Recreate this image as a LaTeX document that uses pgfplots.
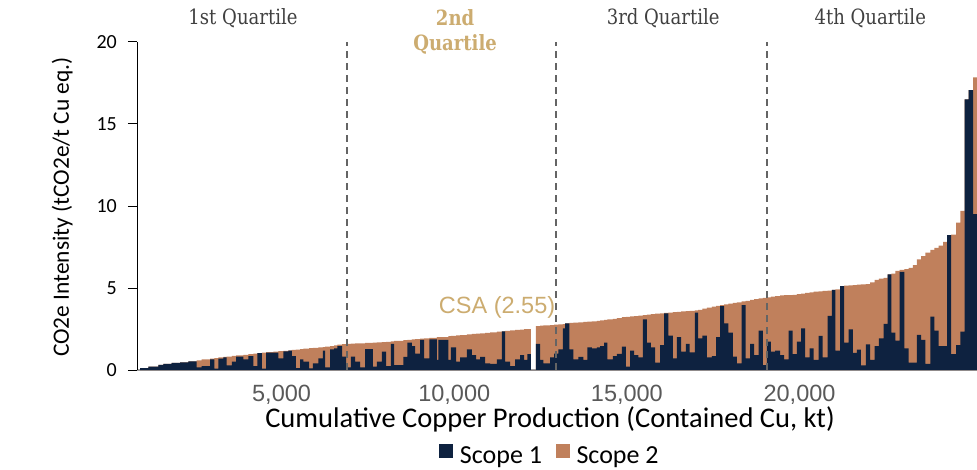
\documentclass[border=0pt]{standalone}
\usepackage{fontspec}
\setmainfont{Carlito}
\newfontfamily\arialf{Liberation Sans}
\newfontfamily\qfont[FakeStretch=0.86]{DejaVu Serif}
\usepackage{pgfplots}
\pgfplotsset{compat=1.18}
\usepackage{pgfplotstable}
\definecolor{navy}{RGB}{14,34,64}
\definecolor{copper}{RGB}{192,128,92}
\definecolor{gold}{RGB}{204,172,112}
\definecolor{qgray}{RGB}{64,64,64}
\definecolor{tickgray}{RGB}{89,89,89}
\definecolor{dashgray}{RGB}{100,100,100}
\pgfplotstableread{
x s1 s2
900 0.12 0
1140 0.20 0
1430 0.32 0
1575 0.37 0
1818 0.44 0
2059 0.47 0
2299 0.52 0
2543 0.16 0.42
2687 0.24 0.41
2928 0.65 0.05
3053 0.08 0.65
3168 0.69 0.08
3313 0.77 0.03
3412 0.28 0.54
3557 0.51 0.35
3681 0.81 0.08
3893 0.65 0.28
4037 0.85 0.12
4182 0.24 0.76
4298 1.03 0
4426 0.08 0.98
4550 1.06 0.03
4762 1.06 0.06
4907 0.71 0.44
5051 1.14 0.03
5196 1.18 0.01
5295 0.85 0.37
5411 0.12 1.12
5535 0.65 0.62
5631 0.51 0.79
5796 0.10 1.23
5903 0.41 0.94
6065 0.71 0.67
6193 1.18 0.22
6260 0.16 1.26
6404 1.26 0.20
6520 1.32 0.18
6616 1.46 0.08
6752 0.81 0.77
6868 0.16 1.44
7004 0.81 0.80
7129 0.51 1.11
7273 0.16 1.47
7418 1.28 0.37
7641 0.20 1.47
7757 0.51 1.18
7902 1.12 0.58
8027 0.24 1.48
8163 1.59 0.16
8258 0.30 1.47
8528 0.80 1.02
8644 1.67 0.17
8771 1.46 0.41
8867 1.00 0.88
9012 1.83 0.08
9128 0.71 1.22
9281 1.87 0.09
9495 0.61 1.39
9542 1.83 0.18
9832 0.61 1.46
9901 1.38 0.70
10055 0.51 1.60
10170 0.77 1.36
10364 1.26 0.91
10509 0.91 1.29
10634 0.65 1.57
10750 0.80 1.44
10895 0.40 1.87
11040 0.37 1.93
11234 0.65 1.69
11379 2.36 0.00
11474 0.51 1.87
11619 0.24 2.17
11764 0.65 1.79
11909 0.91 1.55
12025 0.61 1.88
12120 0.97 1.53
12219 0 0
12364 1.59 1.09
12488 0.61 2.09
12584 0.40 2.32
12778 0.77 1.97
12894 1.00 1.76
13018 1.26 1.52
13146 2.54 0.26
13212 2.85 0.00
13337 1.26 1.61
13453 0.65 2.24
13598 0.80 2.11
13743 0.61 2.32
13859 1.38 1.57
13986 1.32 1.65
14131 1.38 1.61
14226 1.46 1.56
14342 1.67 1.39
14438 0.65 2.43
14594 0.85 2.27
14710 0.98 2.18
14855 1.42 1.80
14971 0.20 3.04
15095 1.18 2.09
15211 0.91 2.38
15336 0.77 2.55
15463 3.09 0.25
15579 1.67 1.70
15695 1.38 2.02
15820 0.45 2.98
15964 1.52 1.94
16080 3.46 0.02
16205 2.10 1.40
16332 0.71 2.82
16448 2.00 1.55
16573 1.12 2.45
16709 1.59 2.00
16814 1.08 2.53
16970 3.50 0.14
17065 1.93 1.73
17190 2.10 1.65
17317 0.77 3.03
17462 0.85 3.01
17587 2.00 1.91
17703 3.90 0.06
17819 2.85 1.15
17943 2.28 1.76
18071 0.81 3.28
18187 0.40 3.73
18320 3.96 0.22
18436 0.71 3.51
18572 1.59 2.68
18688 0.91 3.41
18812 2.40 1.96
18940 0.30 4.10
19056 1.73 2.70
19171 1.12 3.35
19296 1.18 3.33
19441 0.91 3.64
19557 0.65 3.91
19681 2.40 2.17
19797 0.97 3.61
19925 1.73 2.89
20049 2.54 2.12
20165 0.77 3.93
20290 1.32 3.42
20405 0.61 4.17
20550 2.08 2.72
20666 0.77 4.05
20811 3.30 1.54
20939 4.88 0.00
21035 1.18 3.74
21179 5.12 0.00
21295 1.67 3.47
21420 2.48 2.68
21547 1.04 4.14
21663 1.24 3.96
21779 0.28 4.94
21924 1.57 3.67
22048 0.61 4.74
22173 1.46 4.04
22300 1.93 3.64
22434 2.81 2.81
22550 5.83 0.00
22657 2.28 3.60
22773 1.79 4.26
22898 5.99 0.11
23034 1.32 4.83
23159 0.45 5.77
23286 0.45 5.95
23402 2.14 4.61
23518 1.83 5.12
23642 0.37 6.78
23787 3.25 4.07
23903 2.40 5.05
24027 1.46 6.12
24155 1.46 6.36
24271 8.23 0.00
24387 0.97 7.28
24532 1.52 7.46
24655 2.34 7.36
24780 16.50 0.00
24896 17.07 0.00
25024 9.50 8.35
25140 9.50 8.35
}\curve
\begin{document}
\begin{tikzpicture}
\useasboundingbox (0,0) rectangle (977pt,469pt);
\begin{axis}[
  at={(137pt,99pt)}, anchor=south west,
  scale only axis, width=840pt, height=328pt,
  xmin=813, xmax=25140, ymin=0, ymax=20,
  axis x line*=bottom, axis y line*=left,
  x axis line style={draw=gray!75, line width=1.6pt, -},
  y axis line style={draw=black, line width=1pt, -},
  xtick={5000,10000,15000,20000},
  ytick={0,5,10,15,20},
  scaled x ticks=false,
  /pgf/number format/1000 sep={,},
  /pgf/number format/assume math mode=true,
  x tick style={draw=none},
  y tick style={black, line width=1pt},
  major tick length=9pt,
  tick align=outside,
  xticklabel style={font=\arialf\fontsize{23.5}{26}\selectfont, text=tickgray, inner sep=0pt, yshift=-6pt},
  yticklabel style={font=\fontsize{20}{22}\selectfont, inner sep=0pt, xshift=-11pt},
  xlabel={Cumulative Copper Production (Contained Cu, kt)},
  ylabel={CO2e Intensity (tCO2e/t Cu eq.)},
  xlabel style={font=\fontsize{28.5}{30}\selectfont, at={(axis description cs:0.4917,-0.152)}, anchor=center},
  ylabel style={font=\fontsize{23.4}{25}\selectfont, at={(axis description cs:-0.089,0.497)}, anchor=center},
  legend style={at={(axis description cs:0.4917,-0.261)}, anchor=center, draw=none, fill=none,
    font=\fontsize{26}{28}\selectfont, legend columns=2, inner sep=0pt,
    /tikz/every odd column/.append style={column sep=5pt},
    /tikz/every even column/.append style={column sep=12pt}},
  legend image code/.code={\fill[#1] (0pt,-2pt) rectangle (13.5pt,11.5pt);},
  clip=false,
]
\addplot[fill=copper, draw=none, const plot mark left, forget plot]
  table[x=x, y expr=\thisrow{s1}+\thisrow{s2}] {\curve} \closedcycle;
\addplot[fill=navy, draw=none, const plot mark left, forget plot]
  table[x=x, y=s1] {\curve} \closedcycle;
\addplot[dashgray, line width=1.8pt, dash pattern=on 7pt off 5pt, forget plot] coordinates {(6897,0) (6897,20)};
\addplot[dashgray, line width=1.8pt, dash pattern=on 7pt off 5pt, forget plot] coordinates {(12952,0) (12952,20)};
\addplot[dashgray, line width=1.8pt, dash pattern=on 7pt off 5pt, forget plot] coordinates {(19064,0) (19064,20)};
\addlegendimage{fill=navy, draw=none}
\addlegendentry{Scope 1}
\addlegendimage{fill=copper, draw=none}
\addlegendentry{Scope 2}
\node[font=\arialf\fontsize{23.5}{26}\selectfont, text=gold] at (axis cs:11242,3.84) {CSA (2.55)};
\node[font=\qfont\fontsize{21}{23}\selectfont, text=qgray] at (axis cs:3884,21.46) {1st Quartile};
\node[font=\qfont\bfseries\fontsize{21}{23}\selectfont, text=gold] at (axis cs:10026,21.46) {2nd};
\node[font=\qfont\bfseries\fontsize{21}{23}\selectfont, text=gold] at (axis cs:10026,19.88) {Quartile};
\node[font=\qfont\fontsize{21}{23}\selectfont, text=qgray] at (axis cs:16051,21.46) {3rd Quartile};
\node[font=\qfont\fontsize{21}{23}\selectfont, text=qgray] at (axis cs:22048,21.46) {4th Quartile};
\end{axis}
\end{tikzpicture}
\end{document}
